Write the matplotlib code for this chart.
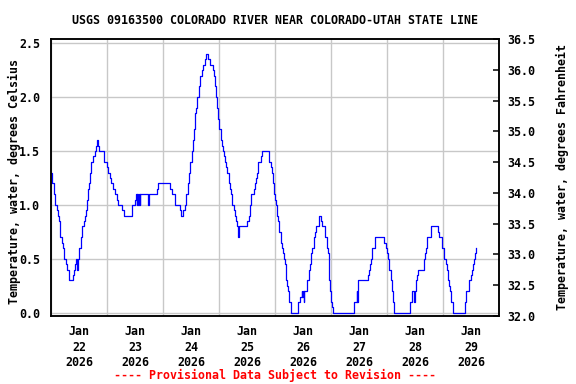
import matplotlib
matplotlib.use("Agg")
import matplotlib.pyplot as plt
import matplotlib.dates as mdates
from datetime import datetime, timedelta

site_title = "USGS 09163500 COLORADO RIVER NEAR COLORADO-UTAH STATE LINE"
left_label = "Temperature, water, degrees Celsius"
right_label = "Temperature, water, degrees Fahrenheit"
footer = "---- Provisional Data Subject to Revision ----"

start = datetime(2026, 1, 22)

# hours after Jan 22 00:00 where the reading changes, and the new reading (deg C)
hours = [
    0.0, 0.43, 1.0, 1.71, 2.29, 2.86, 3.29, 3.71, 3.86, 4.71, 5.14, 5.57, 6.43,
    6.86, 7.71, 9.43, 9.86, 10.29, 10.71, 11.14, 11.57, 11.71, 12.57, 13.14,
    13.86, 14.29, 14.71, 15.29, 15.86, 16.29, 16.71, 17.14, 18.0, 18.57, 19.29,
    19.57, 20.0, 20.29, 22.57, 24.0, 24.43, 25.29, 25.71, 26.57, 27.14, 28.14,
    28.57, 30.29, 31.0, 34.71, 36.0, 36.3, 36.6, 36.8, 37.2, 37.4, 38.0, 38.1,
    41.6, 41.8, 45.2, 45.6, 50.9, 51.6, 53.2, 55.3, 55.7, 56.6, 57.2, 57.7,
    58.4, 58.9, 59.2, 59.4, 60.2, 60.6, 61.0, 61.4, 61.7, 62.2, 62.6, 63.4,
    63.9, 64.6, 64.9, 65.9, 66.3, 67.2, 68.2, 69.2, 69.6, 70.0, 70.6, 71.0,
    71.4, 71.9, 72.7, 73.2, 73.6, 74.0, 74.4, 74.9, 75.3, 76.0, 76.6, 77.0,
    77.6, 78.4, 78.9, 79.3, 79.7, 80.1, 80.6, 84.0, 84.6, 85.0, 85.7, 86.9,
    87.3, 87.7, 88.1, 88.7, 89.9, 90.4, 93.3, 94.3, 94.7, 95.1, 95.6, 96.0,
    96.4, 96.9, 97.3, 97.7, 98.3, 98.7, 99.1, 99.6, 100.0, 100.4, 100.7, 101.1,
    101.6, 102.0, 102.7, 105.6, 106.4, 107.3, 107.6, 107.9, 108.3, 108.5,
    109.7, 110.4, 111.0, 111.4, 111.9, 112.6, 113.0, 113.6, 114.6, 114.8,
    115.7, 116.1, 117.4, 118.0, 118.4, 118.8, 119.1, 119.6, 120.0, 120.4,
    120.7, 129.8, 130.8, 131.1, 131.4, 135.7, 136.1, 136.6, 137.0, 137.4,
    138.7, 142.7, 143.3, 143.8, 144.4, 144.8, 145.4, 146.0, 146.4, 146.8,
    153.8, 154.7, 155.3, 155.9, 156.4, 156.8, 157.3, 159.8, 160.3, 160.7,
    161.1, 162.8, 165.8, 166.3, 167.5, 168.4, 169.0, 169.4, 169.8, 170.3,
    170.7, 171.1, 171.5, 172.0, 172.3, 177.4, 177.8, 179.1, 179.8, 180.3,
    180.7, 181.1, 181.6, 181.9,
]
temps = [
    1.3, 1.2, 1.1, 1.0, 0.95, 0.9, 0.85, 0.8, 0.7, 0.65, 0.6, 0.5, 0.45,
    0.4, 0.3, 0.35, 0.4, 0.45, 0.5, 0.4, 0.5, 0.6, 0.7, 0.8,
    0.85, 0.9, 0.95, 1.05, 1.15, 1.2, 1.3, 1.4, 1.45, 1.5, 1.55,
    1.6, 1.55, 1.5, 1.4, 1.35, 1.3, 1.25, 1.2, 1.15, 1.1, 1.05,
    1.0, 0.95, 0.9, 1.0, 1.05, 1.1, 1.0, 1.1, 1.0, 1.1, 1.0, 1.1,
    1.0, 1.1, 1.15, 1.2, 1.15, 1.1, 1.0, 0.95, 0.9, 0.95, 1.0, 1.1,
    1.2, 1.25, 1.3, 1.4, 1.5, 1.6, 1.7, 1.75, 1.85, 1.9, 2.0, 2.1,
    2.2, 2.25, 2.3, 2.35, 2.4, 2.35, 2.3, 2.25, 2.2, 2.1, 2.0, 1.9,
    1.8, 1.7, 1.6, 1.55, 1.5, 1.45, 1.4, 1.35, 1.3, 1.2, 1.15, 1.1,
    1.0, 0.95, 0.9, 0.85, 0.8, 0.7, 0.8, 0.85, 0.9, 1.0, 1.1, 1.15,
    1.2, 1.25, 1.3, 1.4, 1.45, 1.5, 1.4, 1.35, 1.3, 1.2, 1.1, 1.05,
    1.0, 0.9, 0.85, 0.75, 0.65, 0.6, 0.55, 0.5, 0.45, 0.4, 0.3, 0.25,
    0.2, 0.1, 0.0, 0.1, 0.15, 0.2, 0.15, 0.2, 0.1, 0.2,
    0.3, 0.4, 0.45, 0.55, 0.6, 0.7, 0.75, 0.8, 0.85, 0.9,
    0.85, 0.8, 0.7, 0.6, 0.55, 0.45, 0.3, 0.2, 0.1, 0.05,
    0.0, 0.1, 0.2, 0.1, 0.3, 0.35, 0.4, 0.45, 0.5, 0.6,
    0.7, 0.65, 0.6, 0.55, 0.5, 0.4, 0.3, 0.2, 0.1, 0.0,
    0.1, 0.2, 0.1, 0.2, 0.3, 0.35, 0.4, 0.5, 0.55, 0.6,
    0.7, 0.8, 0.75, 0.7, 0.6, 0.5, 0.45, 0.4, 0.3, 0.25,
    0.2, 0.15, 0.1, 0.05, 0.0, 0.1, 0.2, 0.3, 0.35, 0.4,
    0.45, 0.5, 0.55, 0.6,
]

celsius_ticks = [0.0, 0.5, 1.0, 1.5, 2.0, 2.5]
fahrenheit_ticks = [32.0, 32.5, 33.0, 33.5, 34.0, 34.5, 35.0, 35.5, 36.0, 36.5]

times = [start + timedelta(hours=h) for h in hours]

mono = "DejaVu Sans Mono"
fs = 8.4

fig = plt.figure(figsize=(5.76, 3.84), dpi=100)
ax = fig.add_axes([51.3 / 576, 1 - 315.7 / 384, 448 / 576, 276.4 / 384])

ax.plot(times, temps, color="#0000ff", lw=0.9, drawstyle="steps-post")

ax.set_xlim(start, start + timedelta(days=8))
ax.set_ylim(-0.028, 2.537)
ax.set_yticks(celsius_ticks)
ax.set_yticklabels([f"{t:.1f}" for t in celsius_ticks])

ax.xaxis.set_major_locator(mdates.DayLocator())
ax.xaxis.set_major_formatter(plt.NullFormatter())
ax.xaxis.set_minor_locator(mdates.HourLocator(byhour=12))
ax.xaxis.set_minor_formatter(mdates.DateFormatter("%b\n%d\n%Y"))
ax.tick_params(axis="x", which="both", length=0, pad=7)
ax.tick_params(axis="y", length=0, pad=8)
ax.grid(True, which="major", color="#c8c8c8", lw=1.0)
ax.set_axisbelow(True)

for lab in ax.get_xticklabels(minor=True) + ax.get_yticklabels():
    lab.set_fontfamily(mono)
    lab.set_fontweight("bold")
    lab.set_fontsize(fs)
    lab.set_linespacing(1.25)

for sp in ax.spines.values():
    sp.set_linewidth(1.1)

ax2 = ax.twinx()
ax2.set_ylim(32.0, 36.5)
ax2.set_yticks(fahrenheit_ticks)
ax2.set_yticklabels([f"{t:.1f}" for t in fahrenheit_ticks],
                    fontfamily=mono, fontweight="bold", fontsize=fs)
ax2.tick_params(axis="y", direction="in", length=4, width=1.1, pad=6)
for sp in ax2.spines.values():
    sp.set_linewidth(1.1)

fig.text(275 / 576, 1 - 20 / 384, site_title, ha="center", va="center",
         fontfamily=mono, fontweight="bold", fontsize=fs)
fig.text(14 / 576, 1 - 182 / 384, left_label, rotation=90, ha="center", va="center",
         fontfamily=mono, fontweight="bold", fontsize=fs)
fig.text(562 / 576, 1 - 177 / 384, right_label, rotation=90, ha="center", va="center",
         fontfamily=mono, fontweight="bold", fontsize=fs)
fig.text(275 / 576, 1 - 375 / 384, footer, ha="center", va="center",
         fontfamily=mono, fontweight="bold", fontsize=fs, color="#ff0000")

fig.savefig("out.png", dpi=100)
